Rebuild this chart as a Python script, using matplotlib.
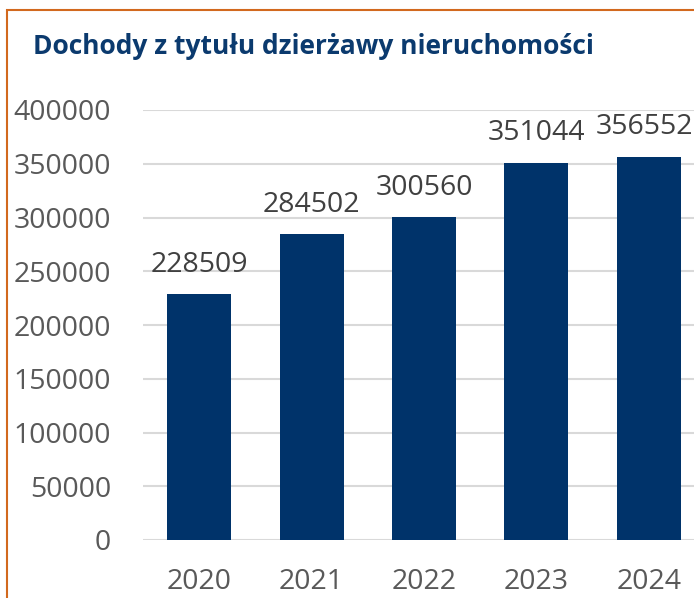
import matplotlib.pyplot as plt
from matplotlib.patches import Rectangle

years = ['2020', '2021', '2022', '2023', '2024']
values = [228509, 284502, 300560, 351044, 356552]
y_ticks = [0, 50000, 100000, 150000, 200000, 250000, 300000, 350000, 400000]

plt.rcParams['font.family'] = ['Open Sans', 'DejaVu Sans']

fig = plt.figure(figsize=(6.94, 5.98), dpi=100)
# axes runs past the right edge, as in the cropped original
ax = fig.add_axes([143 / 694, 58 / 598, 562 / 694, 430 / 598])

x = range(len(years))
ax.bar(x, values, width=0.57, color='#00336A', zorder=3)
for i, v in zip(x, values):
    # last label nudged left so it stays inside the picture
    dx = -3.5 if i == len(values) - 1 else 0
    ax.annotate(str(v), (i, v), xytext=(dx, 11), textcoords='offset points',
                ha='center', va='bottom', fontsize=20.5, color='#404040')

ax.set_xlim(-0.5, len(years) - 0.5)
ax.set_ylim(0, 400000)
ax.set_yticks(y_ticks)
ax.set_yticklabels([str(t) for t in y_ticks])
ax.set_xticks(list(x))
ax.set_xticklabels(years)
ax.tick_params(axis='y', length=0, pad=23, labelsize=20.5, labelcolor='#595959')
ax.tick_params(axis='x', length=0, pad=20, labelsize=20.5, labelcolor='#595959')
ax.yaxis.grid(True, color='#D9D9D9', linewidth=1.5, zorder=0)
for s in ax.spines.values():
    s.set_visible(False)

fig.text(33 / 694, 1 - 46 / 598, 'Dochody z tytułu dzierżawy nieruchomości',
         fontsize=19, fontweight='bold', color='#0B3A6E', va='center', ha='left')

# orange frame (left and top edges visible)
fig.add_artist(Rectangle((7 / 694, -0.1), 1.2, 1 - 10 / 598 + 0.1,
                         transform=fig.transFigure, fill=False,
                         edgecolor='#D2691E', linewidth=1.5))

fig.savefig('out.png', dpi=100)
